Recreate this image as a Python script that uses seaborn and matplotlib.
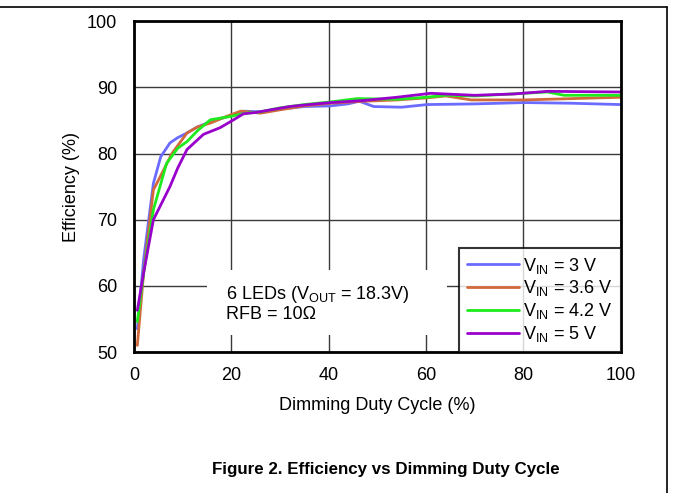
import numpy as np
import pandas as pd
import matplotlib
matplotlib.use("Agg")
import matplotlib.pyplot as plt
from matplotlib.lines import Line2D
from matplotlib.patches import Rectangle
import seaborn as sns

# duty cycle (%) and efficiency (%), one pair of lists per V_IN
duty_3v0 = [0.7, 2, 4, 5.5, 7.4, 9, 10.9, 13, 15.7, 19.8, 22.5, 26, 30, 35, 40.4, 44, 46.3, 49.3, 55, 60.3, 70, 80.2, 90, 99.9]
eff_3v0 = [53.5, 64, 75.5, 79.5, 81.6, 82.4, 83.1, 84.0, 84.8, 85.7, 86.4, 86.3, 86.7, 87.1, 87.2, 87.5, 87.9, 87.1, 87.0, 87.4, 87.5, 87.7, 87.6, 87.4]

duty_3v6 = [0.7, 2, 4, 6.1, 7.8, 10.9, 13, 15.7, 19, 21.9, 23.5, 26, 30, 35, 40.4, 47, 54.2, 60, 64.1, 69.3, 80.2, 90, 99.9]
eff_3v6 = [51.0, 62, 74.5, 77.5, 80.0, 83.1, 84.0, 84.6, 85.6, 86.4, 86.3, 86.1, 86.6, 87.2, 87.6, 87.9, 88.1, 88.4, 88.7, 88.1, 88.1, 88.3, 88.5]

duty_4v2 = [0.7, 2, 4, 6.7, 9, 10.9, 13, 15.7, 19.8, 23, 26, 30, 35, 40.4, 45.9, 54.2, 60, 64.1, 70, 80.2, 85, 88.4, 99.9]
eff_4v2 = [54.6, 62, 71.5, 78.5, 80.8, 81.8, 83.4, 85.1, 85.6, 86.1, 86.3, 86.9, 87.4, 87.8, 88.3, 88.2, 88.5, 88.8, 88.7, 89.1, 89.3, 88.8, 88.8]

duty_5v0 = [0.7, 2, 4, 7.4, 9, 10.9, 14.3, 17.7, 20.5, 22.5, 25, 28.1, 32, 36, 40.4, 47, 54, 61, 70, 78, 85, 99.9]
eff_5v0 = [56.3, 62, 70.0, 75.0, 77.8, 80.6, 82.9, 83.9, 85.1, 86.0, 86.2, 86.6, 87.1, 87.4, 87.7, 88.0, 88.5, 89.1, 88.8, 89.0, 89.4, 89.3]

series_names = ["$\\mathregular{V_{IN}}$ = 3 V", "$\\mathregular{V_{IN}}$ = 3.6 V",
                "$\\mathregular{V_{IN}}$ = 4.2 V", "$\\mathregular{V_{IN}}$ = 5 V"]
palette = ["#6B6BFF", "#D2693A", "#1EEB1E", "#9A00CC"]

x_ticks = [0, 20, 40, 60, 80, 100]
y_ticks = [50, 60, 70, 80, 90, 100]

frames = []
for name, xs, ys in zip(series_names,
                        [duty_3v0, duty_3v6, duty_4v2, duty_5v0],
                        [eff_3v0, eff_3v6, eff_4v2, eff_5v0]):
    frames.append(pd.DataFrame({"duty": xs, "eff": ys, "vin": name}))
df = pd.concat(frames, ignore_index=True)

sns.set_style("white")
plt.rcParams["font.family"] = ["Liberation Sans", "DejaVu Sans"]
plt.rcParams["mathtext.fontset"] = "custom"
plt.rcParams["mathtext.rm"] = "Liberation Sans"
for key in ["text.color", "axes.labelcolor", "xtick.color", "ytick.color"]:
    plt.rcParams[key] = "black"

fig = plt.figure(figsize=(6.73, 4.93), dpi=100)
ax = fig.add_axes([0.199, 0.286, 0.723, 0.671])

sns.lineplot(data=df, x="duty", y="eff", hue="vin", palette=palette,
             linewidth=2, sort=False, estimator=None, ax=ax)

ax.set_xlim(0, 100)
ax.set_ylim(50, 100)
ax.set_xticks(x_ticks)
ax.set_yticks(y_ticks)
ax.grid(True, color="#3a3a3a", linewidth=1)
ax.set_axisbelow(True)
ax.tick_params(axis="x", length=0, labelsize=13, pad=11)
ax.tick_params(axis="y", length=0, labelsize=13, pad=12)
for sp in ax.spines.values():
    sp.set_linewidth(2)
    sp.set_color("black")

ax.set_xlabel("Dimming Duty Cycle (%)", fontsize=13, labelpad=9)
ax.set_ylabel("Efficiency (%)", fontsize=13, labelpad=5)

# white patch behind the note, hiding the grid there
ax.add_patch(Rectangle((15, 52.5), 49.4, 9.9, facecolor="white",
                       edgecolor="none", zorder=1.5))
ax.text(19.0, 57.3, "6 LEDs (V$_{\\mathregular{OUT}}$ = 18.3V)\nRFB = 10\u03a9",
        fontsize=13, va="center", ha="left", linespacing=1.05, zorder=3)

leg = ax.legend(loc="lower right", fontsize=13, frameon=True, fancybox=False,
                handlelength=2.9, handletextpad=0.2, borderpad=0.45,
                labelspacing=0.15, borderaxespad=0)
leg.get_frame().set_edgecolor("black")
leg.get_frame().set_linewidth(1.5)
leg.set_zorder(4)

fig.text(0.573, 0.047, "Figure 2. Efficiency vs Dimming Duty Cycle",
         ha="center", va="center", fontsize=12.2, fontweight="bold")

# page frame (top and right edges)
fig.add_artist(Line2D([0, 0.991], [0.986, 0.986], color="black", linewidth=1.2))
fig.add_artist(Line2D([0.991, 0.991], [0, 0.986], color="black", linewidth=1.2))

fig.savefig("out.png", dpi=100)
